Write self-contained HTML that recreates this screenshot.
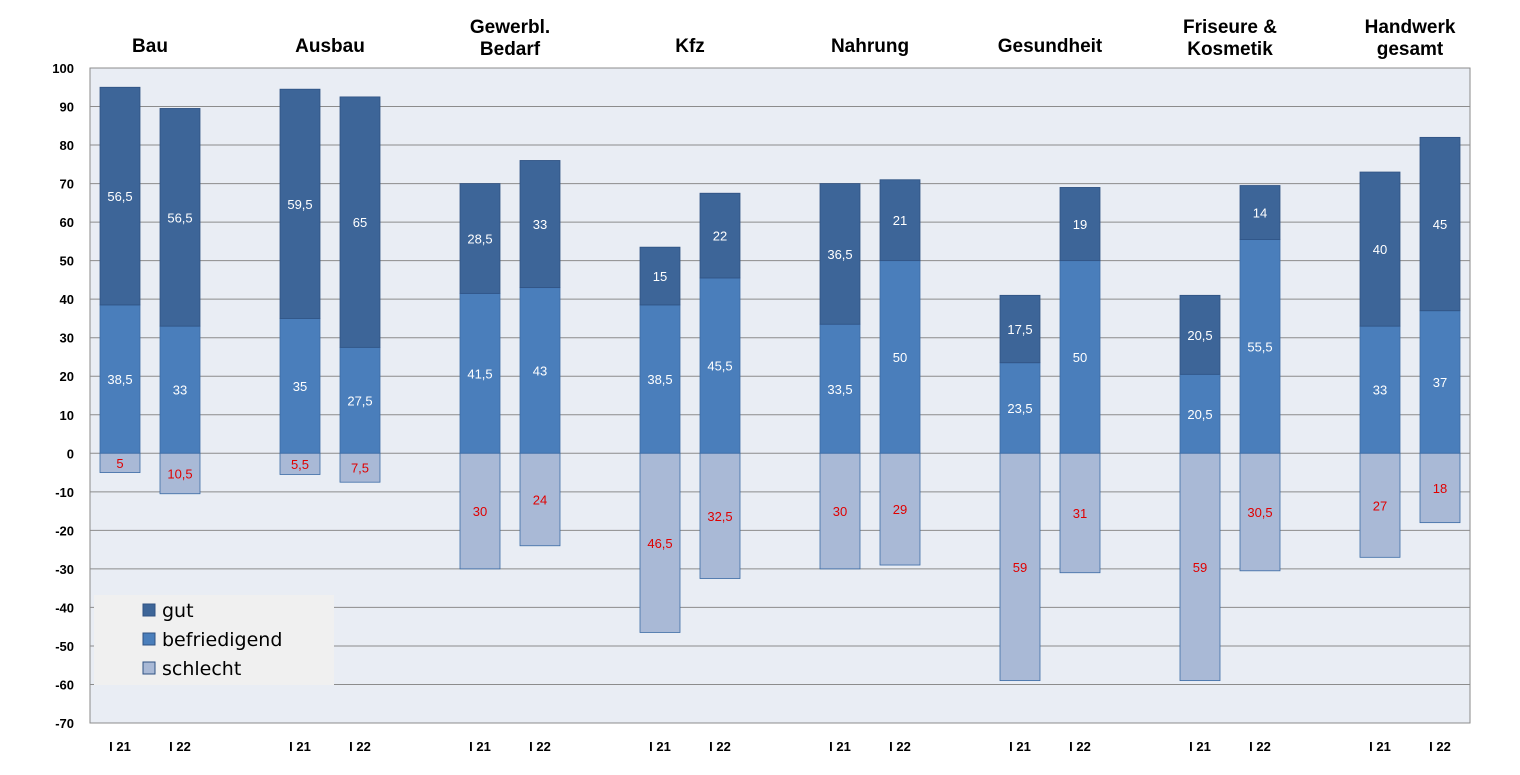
<!DOCTYPE html>
<html><head><meta charset="utf-8"><style>
body{margin:0;background:#fff;}
svg{display:block;font-family:"Liberation Sans",sans-serif;}
</style></head><body>
<svg id="chart" width="1520" height="775"></svg>
<script>
const groups=["Bau","Ausbau","Gewerbl.|Bedarf","Kfz","Nahrung","Gesundheit","Friseure &|Kosmetik","Handwerk|gesamt"];
const periods=["I 21","I 22"];
const gut=[56.5,56.5,59.5,65,28.5,33,15,22,36.5,21,17.5,19,20.5,14,40,45];
const befr=[38.5,33,35,27.5,41.5,43,38.5,45.5,33.5,50,23.5,50,20.5,55.5,33,37];
const schlecht=[5,10.5,5.5,7.5,30,24,46.5,32.5,30,29,59,31,59,30.5,27,18];
const ticks=[100,90,80,70,60,50,40,30,20,10,0,-10,-20,-30,-40,-50,-60,-70];
const fmt=v=>String(v).replace('.',',');
const svg=document.getElementById('chart');
const NS='http://www.w3.org/2000/svg';
function mk(tag,attrs,parent){const e=document.createElementNS(NS,tag);for(const k in attrs)e.setAttribute(k,attrs[k]);(parent||svg).appendChild(e);return e;}
const X0=90,X1=1470,YT=68,YB=723,VMAX=100,VMIN=-70;
const y=v=>YT+(VMAX-v)*(YB-YT)/(VMAX-VMIN);
const bx=i=>100+Math.floor(i/2)*180+(i%2)*60;
const BW=40;
const bg=mk('rect',{x:X0,y:YT,width:X1-X0,height:YB-YT,fill:'#e9edf4',stroke:'#8a8a8a'});


ticks.forEach(t=>{
 const l=mk('line',{x1:X0,x2:X1,y1:y(t),y2:y(t),stroke:'#8c8c8c','stroke-width':1});
 
 
 const tx=mk('text',{x:74,y:y(t)+5,'text-anchor':'end','font-size':13,'font-weight':'bold',fill:'#000'});
 tx.textContent=t;
 
 
});
for(let i=0;i<gut.length;i++){
 const x=bx(i);
 const b=mk('rect',{x:x,y:y(befr[i]),width:BW,height:y(0)-y(befr[i]),fill:'#4a7ebb',stroke:'#3b6ba5','stroke-width':0.8});
 
 
 const top=befr[i]+gut[i];
 const g=mk('rect',{x:x,y:y(top),width:BW,height:y(befr[i])-y(top),fill:'#3d6598',stroke:'#2f5283','stroke-width':0.8});
 
 
 const s=mk('rect',{x:x,y:y(0),width:BW,height:y(-schlecht[i])-y(0),fill:'#a9b9d6',stroke:'#3b6ba5','stroke-width':0.8});
 
 
 const t1=mk('text',{x:x+BW/2,y:(y(befr[i])+y(top))/2+5,'text-anchor':'middle','font-size':13,fill:'#fff'});
 t1.textContent=fmt(gut[i]);
 
 
 const t2=mk('text',{x:x+BW/2,y:(y(0)+y(befr[i]))/2+5,'text-anchor':'middle','font-size':13,fill:'#fff'});
 t2.textContent=fmt(befr[i]);
 
 
 const t3=mk('text',{x:x+BW/2,y:(y(0)+y(-schlecht[i]))/2+5,'text-anchor':'middle','font-size':13,fill:'#e00000'});
 t3.textContent=fmt(schlecht[i]);
 
 
 const xl=mk('text',{x:x+BW/2,y:751,'text-anchor':'middle','font-size':13,'font-weight':'bold',fill:'#000'});
 xl.textContent=periods[i%2];
 
 
}
groups.forEach((gname,k)=>{
 const cx=bx(2*k)+BW+10;
 const lines=gname.split('|');
 lines.forEach((ln,j)=>{
  const yy=lines.length==1?52:(33+j*22);
  const t=mk('text',{x:cx,y:yy,'text-anchor':'middle','font-size':19,'font-weight':'bold',fill:'#000'});
  t.textContent=ln;
  
  
 });
});
const lg=mk('g',{});


mk('rect',{x:94,y:595,width:240,height:90,fill:'#f0f0f0'},lg);
[['gut','#3d6598'],['befriedigend','#4a7ebb'],['schlecht','#a9b9d6']].forEach((e,j)=>{
 const r=mk('rect',{x:143,y:604+j*29,width:12,height:12,fill:e[1],stroke:'#2f5283','stroke-width':1},lg);
 
 
 const t=mk('text',{x:162,y:617+j*29,'font-size':19,fill:'#000','font-family':'DejaVu Sans, sans-serif'},lg);
 t.textContent=e[0];
 
 
});
</script>
</body></html>
